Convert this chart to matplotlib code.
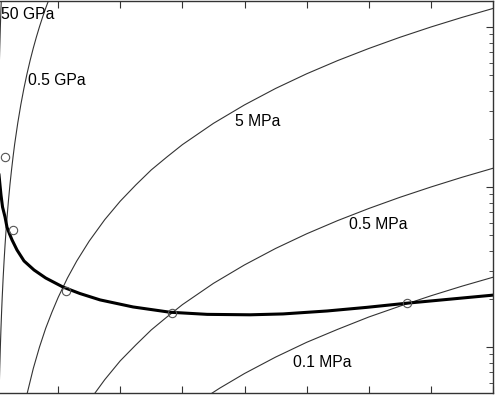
import matplotlib
matplotlib.use('Agg')
import matplotlib.pyplot as plt

plt.rcParams['font.family'] = ['Liberation Sans', 'DejaVu Sans']

# Изобары (тонкие линии)
x_50gpa = [0.01, 0.02, 0.03, 0.04, 0.05, 0.06, 0.07, 0.08, 0.09]
y_50gpa = [20.5, 82, 185, 328, 512, 738, 1005, 1312, 1660]

x_05gpa = [0.04, 0.05, 0.06, 0.07, 0.08, 0.09, 0.1, 0.115, 0.13, 0.145, 0.16, 0.18,
           0.2, 0.225, 0.25, 0.275, 0.3, 0.35, 0.4, 0.45, 0.5, 0.55, 0.6, 0.65,
           0.7, 0.75, 0.8, 0.86]
y_05gpa = [3.3, 5.1, 7.4, 10.0, 13.1, 16.6, 20.5, 27.1, 34.6, 43.1, 52.5, 66.4,
           82, 104, 128, 155, 185, 251, 328, 415, 512, 620, 738, 866,
           1005, 1153, 1312, 1516]

x_5mpa = [0.45, 0.5, 0.6, 0.7, 0.8, 0.9, 1.0, 1.15, 1.3, 1.5, 1.75, 2, 2.25, 2.5,
          2.75, 3, 3.5, 4, 4.5, 5, 5.5, 6, 6.5, 7, 7.5, 8]
y_5mpa = [4.13, 5.1, 7.34, 10.0, 13.1, 16.5, 20.4, 27.0, 34.5, 45.9, 62.5, 81.6,
          103, 128, 154, 184, 250, 326, 413, 510, 617, 734, 862, 1000, 1148, 1306]

x_05mpa = [1.5, 1.75, 2, 2.25, 2.5, 2.75, 3, 3.5, 4, 4.5, 5, 5.5, 6, 6.5, 7, 7.5, 8]
y_05mpa = [4.6, 6.25, 8.2, 10.3, 12.8, 15.4, 18.4, 25, 32.6, 41.3, 51, 61.7, 73.4,
           86.2, 100, 115, 131]

x_01mpa = [3.3, 3.6, 4, 4.5, 5, 5.5, 6, 6.5, 7, 7.5, 8]
y_01mpa = [4.65, 5.53, 6.83, 8.65, 10.7, 12.9, 15.4, 18.0, 20.9, 24.0, 27.3]

# Основная кривая (жирная)
x_main = [0.032, 0.048, 0.064, 0.0805, 0.105, 0.145, 0.177, 0.217, 0.258, 0.338,
          0.451, 0.612, 0.8, 1.079, 1.35, 1.675, 2.206, 2.8, 3.4, 4.09, 4.62,
          5.33, 5.97, 6.62, 7.3, 8.0]
y_main = [137, 119, 103, 89, 75, 65, 56, 51, 46.7, 40.4,
          34.5, 30.3, 27.0, 23.7, 21.6, 19.7, 17.8, 16.5, 16.0, 15.9, 16.1,
          16.8, 17.7, 18.8, 19.9, 21.1]

# Точки
x_pts = [0.145, 0.274, 1.127, 2.834, 6.618]
y_pts = [154, 53.8, 22.4, 16.3, 18.8]

# Подписи
labels = ['50 GPa', '0.5 GPa', '5 MPa', '0.5 MPa', '0.1 MPa']
label_x = [0.08, 0.507, 3.85, 5.68, 4.78]
label_y = [1189, 460, 255, 57.9, 8.06]

fig = plt.figure(figsize=(4.99, 4.0), dpi=100)
ax = fig.add_axes([-0.008, 0.0175, 0.996, 0.98])

thin = dict(color='#333333', linewidth=0.8)
for xs, ys in [(x_50gpa, y_50gpa), (x_05gpa, y_05gpa), (x_5mpa, y_5mpa),
               (x_05mpa, y_05mpa), (x_01mpa, y_01mpa)]:
    ax.plot(xs, ys, **thin)

ax.plot(x_main, y_main, color='black', linewidth=2.2)
ax.plot(x_pts, y_pts, 'o', markersize=6, markerfacecolor='none',
        markeredgecolor='#555555', markeredgewidth=0.8)

for t, lx, ly in zip(labels, label_x, label_y):
    ax.text(lx, ly, t, fontsize=11.3, ha='left', va='center', color='black')

ax.set_yscale('log')
ax.set_xlim(0, 8)
ax.set_ylim(5.16, 1454)
ax.set_xticks(range(0, 9))
ax.tick_params(which='both', direction='in', top=True, right=True, left=False,
               labelleft=False, labelbottom=False, color='#333333')
ax.tick_params(which='major', length=5, width=0.8)
ax.tick_params(which='minor', length=3, width=0.6)
for s in ax.spines.values():
    s.set_color('#333333')
    s.set_linewidth(1.0)

fig.savefig('out.png', dpi=100)
